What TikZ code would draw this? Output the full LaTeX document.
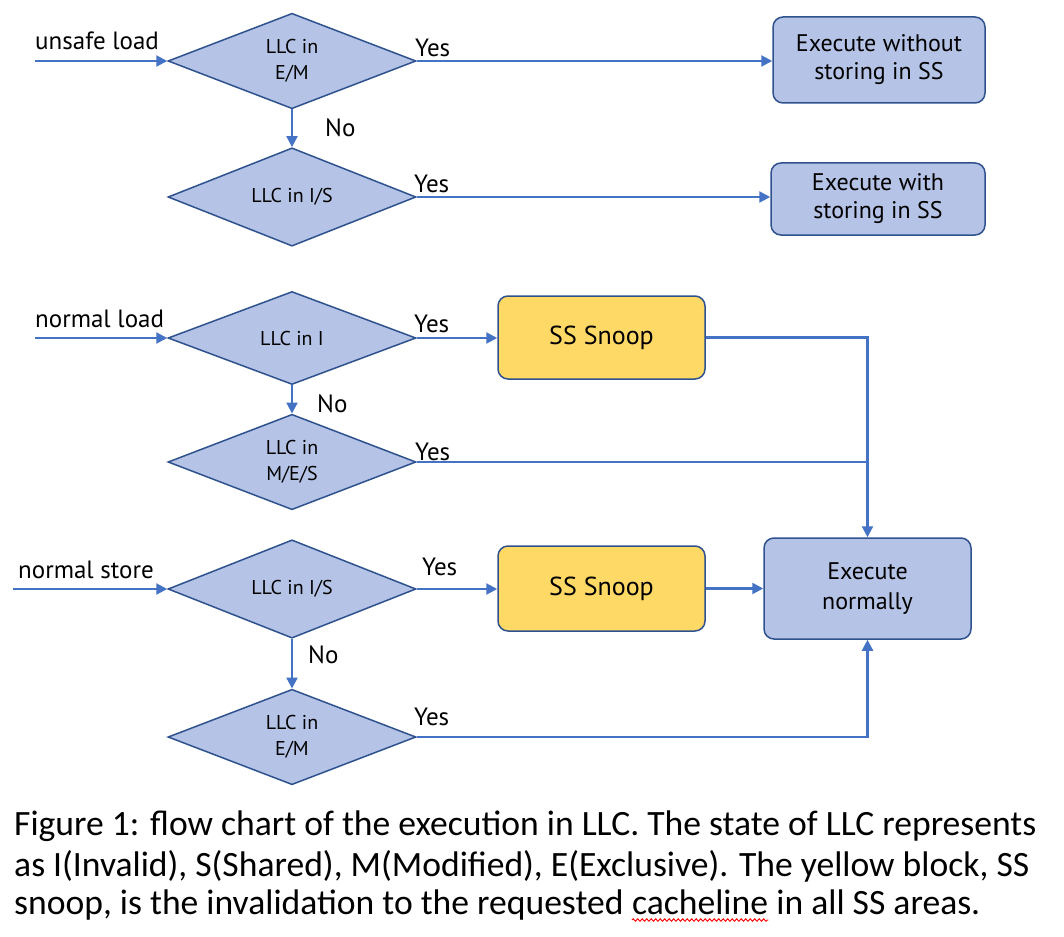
\documentclass[tikz,border=0pt]{standalone}
\usepackage{fontspec}
\setmainfont{Carlito}
\newfontfamily\diagfont{PT Sans}
\usetikzlibrary{shapes.geometric,arrows.meta,decorations.pathmorphing,calc}
\definecolor{fillblue}{HTML}{B4C3E6}
\definecolor{edgeblue}{HTML}{2F528F}
\definecolor{linkblue}{HTML}{4472C4}
\definecolor{snoopfill}{HTML}{FFD966}
\tikzset{
  decision/.style={diamond, draw=edgeblue, fill=fillblue, line width=1.5pt, inner sep=0pt,
    minimum width=248pt, minimum height=93pt, align=center, font=\diagfont\fontsize{20}{26}\selectfont},
  procbox/.style={rectangle, rounded corners=10pt, draw=edgeblue, fill=fillblue, line width=1.5pt,
    align=center, font=\diagfont\fontsize{24}{28}\selectfont, inner sep=0pt},
  snoopbox/.style={procbox, fill=snoopfill, font=\diagfont\fontsize{26}{30}\selectfont},
  link/.style={draw=linkblue, line width=2.2pt},
  arrowlink/.style={link, -{Triangle[length=11pt,width=11pt]}},
  lbl/.style={font=\diagfont\fontsize{25}{28}\selectfont, inner sep=0pt, anchor=base west},
  inlbl/.style={lbl, font=\diagfont\fontsize{25}{28}\selectfont},
  caption/.style={font=\fontsize{35.6}{40}\selectfont, inner sep=0pt, anchor=base west},
}
\begin{document}
\begin{tikzpicture}[x=1pt,y=-1pt]
\useasboundingbox[fill=white] (0,0) rectangle (1064,936);

% decisions
\node[decision] (d1) at (292,61) {LLC in\\E/M};
\node[decision] (d2) at (292,197) {LLC in I/S};
\node[decision] (d3) at (292,338) {LLC in I};
\node[decision] (d4) at (292,462) {LLC in\\M/E/S};
\node[decision] (d5) at (292,589) {LLC in I/S};
\node[decision] (d6) at (292,737) {LLC in\\E/M};

% boxes
\node[procbox, minimum width=212pt, minimum height=86pt] (b1) at (879,60) {Execute without\\storing in SS};
\node[procbox, minimum width=214pt, minimum height=72pt] (b2) at (878,199) {Execute with\\storing in SS};
\node[snoopbox, minimum width=207pt, minimum height=83pt] (s1) at (601.5,337.5) {SS Snoop};
\node[snoopbox, minimum width=207pt, minimum height=85pt] (s2) at (601.5,588.5) {SS Snoop};
\node[procbox, minimum width=207pt, minimum height=101pt, font=\diagfont\fontsize{24}{30}\selectfont] (en) at (867.5,588.5) {Execute\\normally};

% inputs
\coordinate (in1) at (35,61);
\coordinate (in2) at (35,338);
\coordinate (in3) at (13,589);
\node[inlbl] (t1) at (35,50) {unsafe load};
\node[inlbl] (t2) at (35,327) {normal load};
\node[inlbl] (t3) at (18,578) {normal store};

% labels
\node[lbl] (y1) at (415,57) {Yes};
\node[lbl] (y2) at (414,192) {Yes};
\node[lbl] (y3) at (414,332) {Yes};
\node[lbl] (y4) at (415,460) {Yes};
\node[lbl] (y5) at (422,575) {Yes};
\node[lbl] (y6) at (414,725) {Yes};
\node[lbl] (n1) at (325,137) {No};
\node[lbl] (n3) at (317,412) {No};
\node[lbl] (n5) at (308,663) {No};

% connectors
\draw[arrowlink] (in1) -- (d1.west);
\draw[arrowlink] (d1.east) -- (d1.east -| b1.west);
\draw[arrowlink] (d1.south) -- (d2.north);
\draw[arrowlink] (d2.east) -- (d2.east -| b2.west);

\draw[arrowlink] (in2) -- (d3.west);
\draw[arrowlink] (d3.east) -- (d3.east -| s1.west);
\draw[arrowlink] (d3.south) -- (d4.north);
\draw[arrowlink] (s1.east) -| (en.north);
\draw[link] (d4.east) -- (d4.east -| en.north);

\draw[arrowlink] (in3) -- (d5.west);
\draw[arrowlink] (d5.east) -- (d5.east -| s2.west);
\draw[arrowlink] (s2.east) -- (en.west);
\draw[arrowlink] (d5.south) -- (d6.north);
\draw[arrowlink] (d6.east) -| (en.south);

% caption
\node[caption] (c1) at (14,835) {Figure 1: flow chart of the execution in LLC. The state of LLC represents};
\node[caption] (c2) at (14,876) {as I(Invalid), S(Shared), M(Modified), E(Exclusive). The yellow block, SS};
\node[caption] (c3a) at (14,914) {snoop, is the invalidation to the requested};
\node[caption, anchor=base west] (c3b) at ([xshift=8pt]c3a.base east) {cacheline};
\node[caption, anchor=base west] (c3c) at ([xshift=8pt]c3b.base east) {in all SS areas.};
\draw[red, line width=0.9pt, decorate, decoration={snake, amplitude=1.2pt, segment length=4.5pt}]
  ($(c3b.base west)+(0,6)$) -- ($(c3b.base east)+(0,6)$);
\end{tikzpicture}
\end{document}
